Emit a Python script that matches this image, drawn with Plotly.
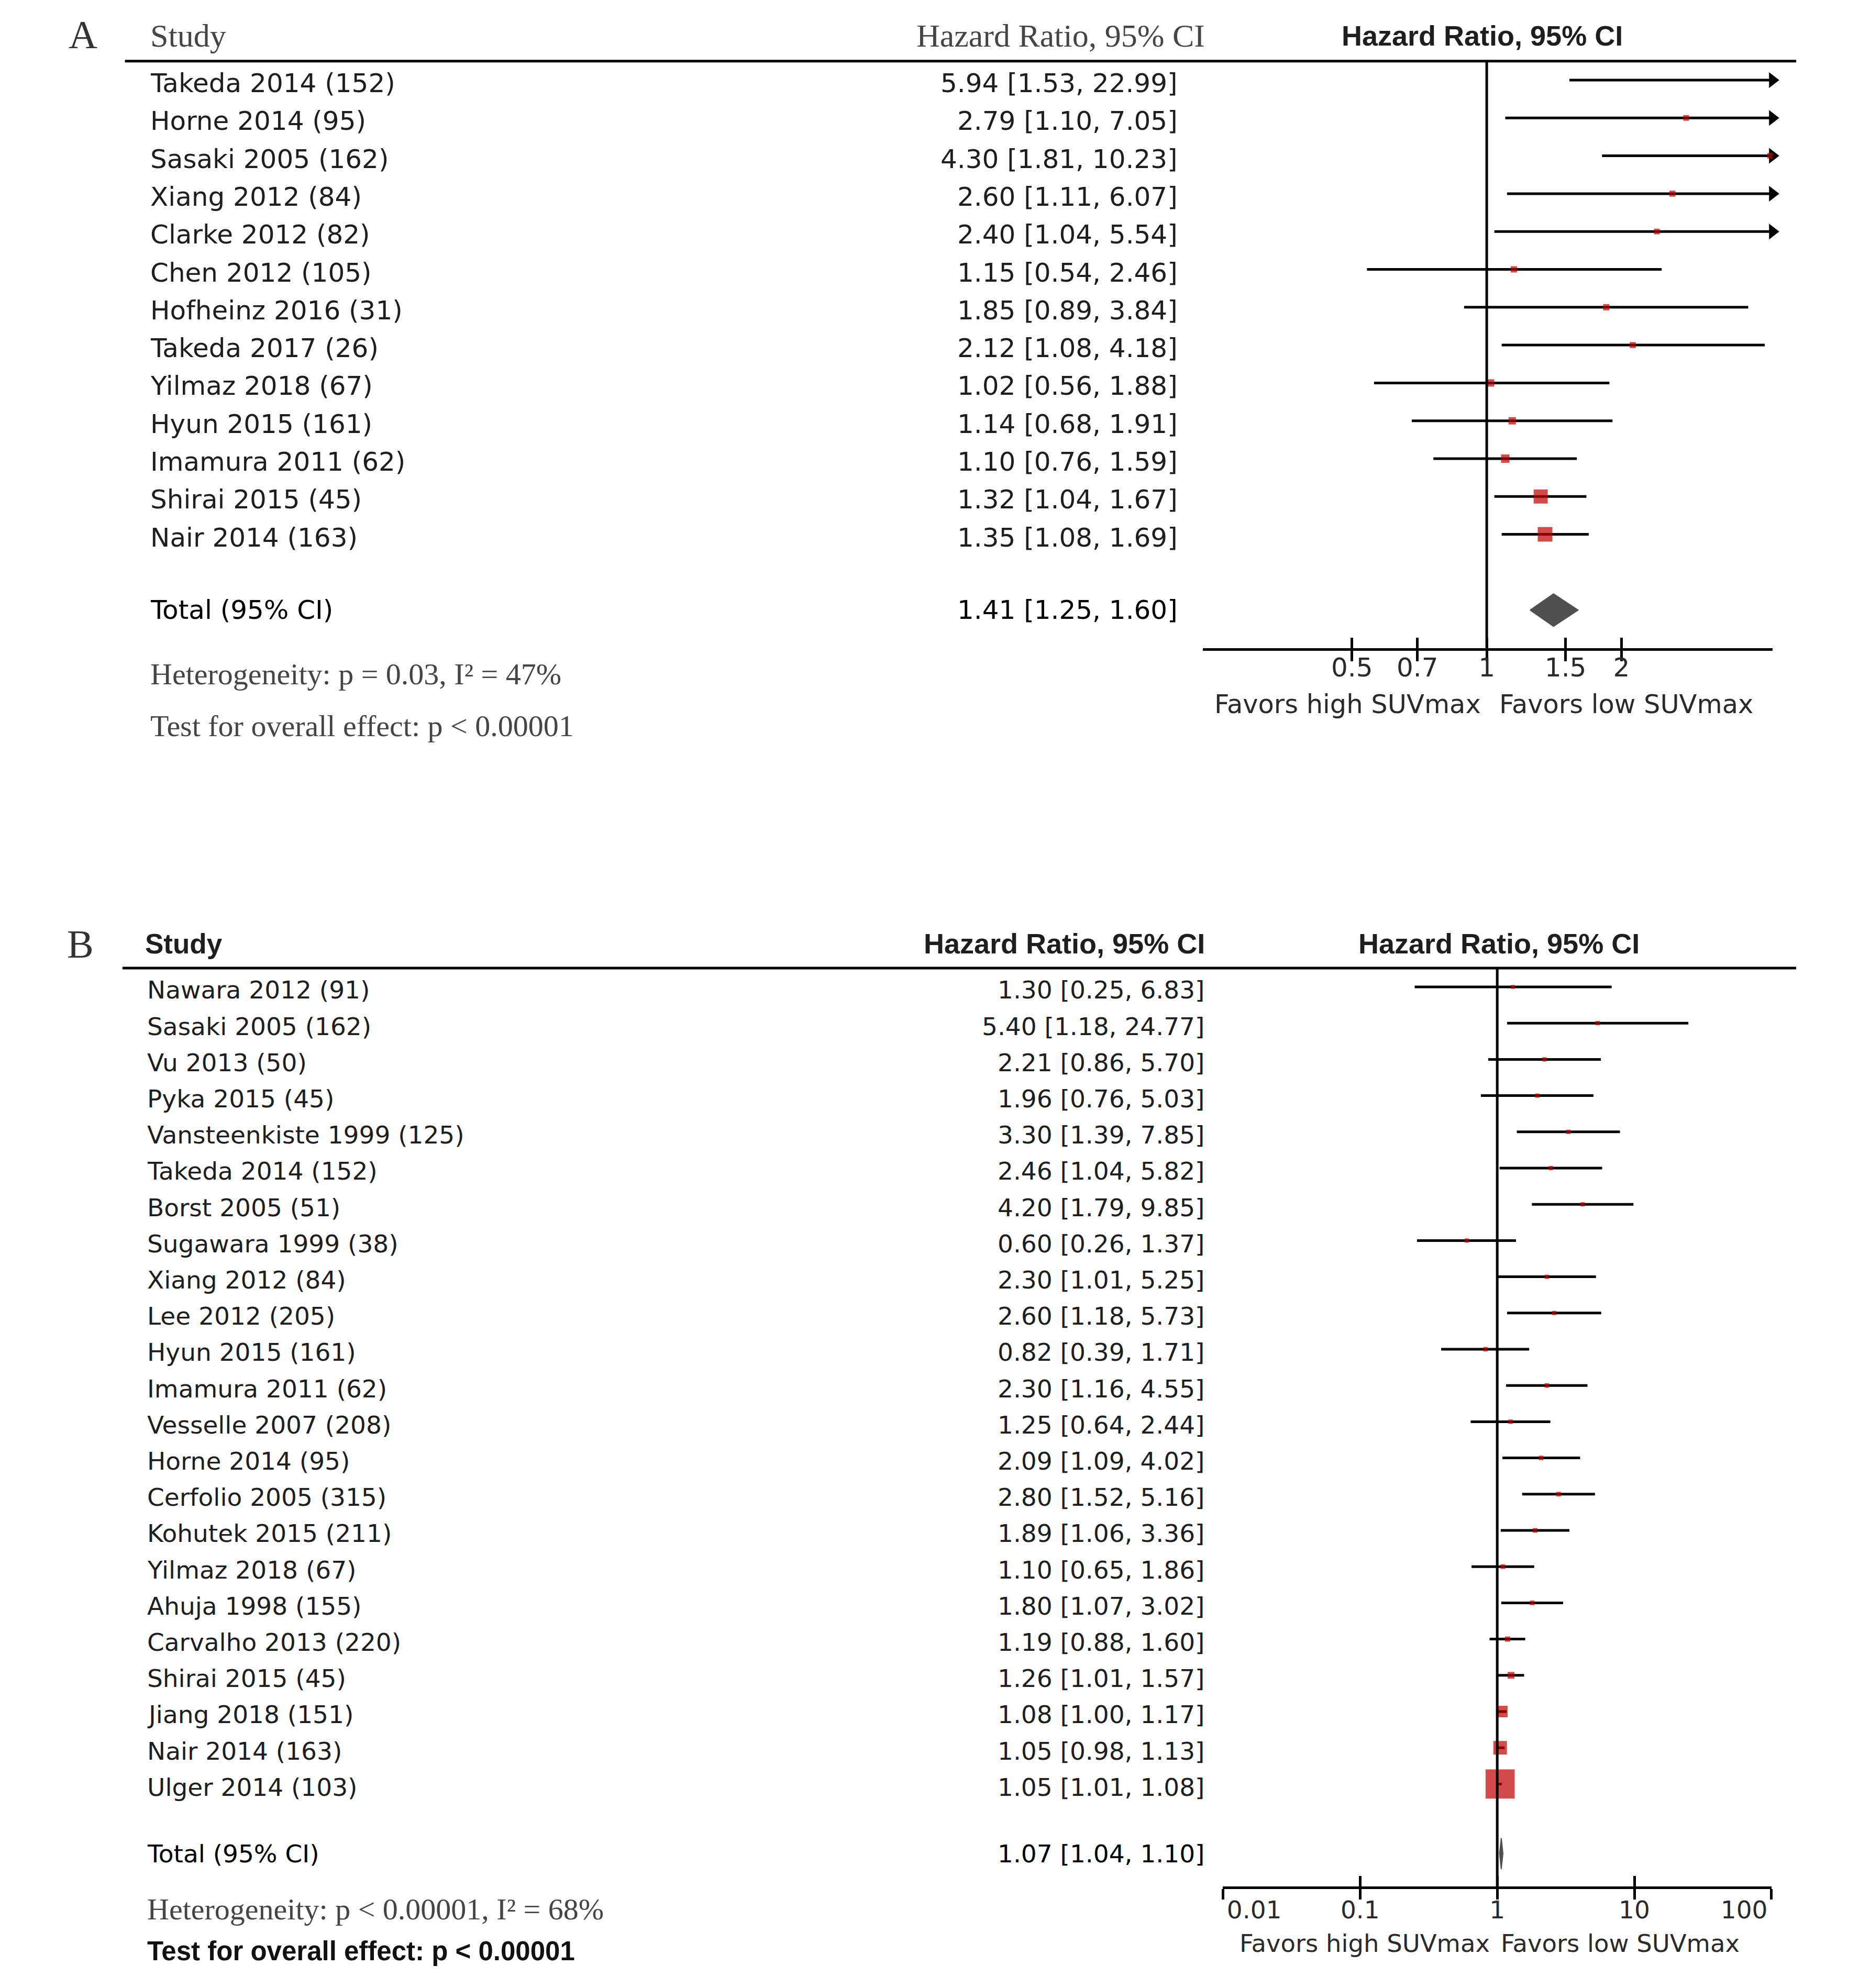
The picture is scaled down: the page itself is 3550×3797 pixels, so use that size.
import math
import plotly.graph_objects as go

# ---------------- data: panel A ----------------
studies_a = ["Takeda 2014 (152)", "Horne 2014 (95)", "Sasaki 2005 (162)", "Xiang 2012 (84)",
             "Clarke 2012 (82)", "Chen 2012 (105)", "Hofheinz 2016 (31)", "Takeda 2017 (26)",
             "Yilmaz 2018 (67)", "Hyun 2015 (161)", "Imamura 2011 (62)", "Shirai 2015 (45)",
             "Nair 2014 (163)"]
hr_a = [5.94, 2.79, 4.30, 2.60, 2.40, 1.15, 1.85, 2.12, 1.02, 1.14, 1.10, 1.32, 1.35]
lo_a = [1.53, 1.10, 1.81, 1.11, 1.04, 0.54, 0.89, 1.08, 0.56, 0.68, 0.76, 1.04, 1.08]
hi_a = [22.99, 7.05, 10.23, 6.07, 5.54, 2.46, 3.84, 4.18, 1.88, 1.91, 1.59, 1.67, 1.69]
weights_a = [2.5, 4.0, 4.0, 4.4, 4.0, 4.8, 4.8, 4.4, 6.5, 6.5, 8.5, 24.0, 26.0]
total_a = [1.41, 1.25, 1.60]
ticks_a = [0.5, 0.7, 1, 1.5, 2]
tick_labels_a = ["0.5", "0.7", "1", "1.5", "2"]
het_a = "Heterogeneity: p = 0.03, I² = 47%"
test_a = "Test for overall effect: p &lt; 0.00001"

# ---------------- data: panel B ----------------
studies_b = ["Nawara 2012 (91)", "Sasaki 2005 (162)", "Vu 2013 (50)", "Pyka 2015 (45)",
             "Vansteenkiste 1999 (125)", "Takeda 2014 (152)", "Borst 2005 (51)",
             "Sugawara 1999 (38)", "Xiang 2012 (84)", "Lee 2012 (205)", "Hyun 2015 (161)",
             "Imamura 2011 (62)", "Vesselle 2007 (208)", "Horne 2014 (95)", "Cerfolio 2005 (315)",
             "Kohutek 2015 (211)", "Yilmaz 2018 (67)", "Ahuja 1998 (155)", "Carvalho 2013 (220)",
             "Shirai 2015 (45)", "Jiang 2018 (151)", "Nair 2014 (163)", "Ulger 2014 (103)"]
hr_b = [1.30, 5.40, 2.21, 1.96, 3.30, 2.46, 4.20, 0.60, 2.30, 2.60, 0.82, 2.30, 1.25, 2.09,
        2.80, 1.89, 1.10, 1.80, 1.19, 1.26, 1.08, 1.05, 1.05]
lo_b = [0.25, 1.18, 0.86, 0.76, 1.39, 1.04, 1.79, 0.26, 1.01, 1.18, 0.39, 1.16, 0.64, 1.09,
        1.52, 1.06, 0.65, 1.07, 0.88, 1.01, 1.00, 0.98, 1.01]
hi_b = [6.83, 24.77, 5.70, 5.03, 7.85, 5.82, 9.85, 1.37, 5.25, 5.73, 1.71, 4.55, 2.44, 4.02,
        5.16, 3.36, 1.86, 3.02, 1.60, 1.57, 1.17, 1.13, 1.08]
weights_b = [1.0, 1.2, 1.2, 1.2, 1.2, 1.2, 1.2, 1.2, 1.2, 1.2, 1.3, 1.3, 1.3, 1.3, 1.4, 1.4,
             1.4, 1.4, 1.8, 3.0, 8.6, 12.0, 55.0]
total_b = [1.07, 1.04, 1.10]
ticks_b = [0.01, 0.1, 1, 10, 100]
tick_labels_b = ["0.01", "0.1", "1", "10", "100"]
het_b = "Heterogeneity: p &lt; 0.00001, I² = 68%"
test_b = "Test for overall effect: p &lt; 0.00001"

header_study = "Study"
header_hr = "Hazard Ratio, 95% CI"
total_label = "Total (95% CI)"
favor_left = "Favors high SUVmax"
favor_right = "Favors low SUVmax"

# ---------------- styling / layout ----------------
W, H = 3550, 3797
PAGE_OFF = 8  # default page margin of the html body
TEXT_DY = 6   # row texts sit a little below their whisker lines
RED = "#c00000"
DIAMOND = "#505050"
TXT = "#1e1e1e"
GREY = "#454545"
SANS = "DejaVu Sans"
SERIF = "Liberation Serif"
ARIAL = "Liberation Sans"


def fx(p):
    return (p - PAGE_OFF) / W


def fy(p):
    return 1.0 - (p - PAGE_OFF) / H


def ci_text(e, l, h):
    return f"{e:.2f} [{l:.2f}, {h:.2f}]"


fig = go.Figure()
annotations = []
shapes = []


def label(x_px, y, s, yref, anchor, size, family, color):
    annotations.append(dict(x=fx(x_px), y=y, xref="paper", yref=yref, text=s,
                            showarrow=False, xanchor=anchor, yanchor="middle",
                            font=dict(family=family, size=size, color=color)))


panels = [
    dict(tag="A", names=studies_a, hr=hr_a, lo=lo_a, hi=hi_a, w=weights_a, total=total_a,
         ticks=ticks_a, ticktext=tick_labels_a, het=het_a, test=test_a,
         x="x", xin="x3", y="y", xname="xaxis", xinname="xaxis3", yname="yaxis",
         x_px=(2321, 3477), xlim=(0.232, 4.35), row0=153.0, step=72.3, top=-0.5,
         bottom=15.0, total_row=14.0, box_k=5.5, txt_size=50,
         tag_xy=(49, 66), head_y=68, name_x=183, val_x=2272, colhead_x=2328, fhead_x=2888,
         het_y=1287, test_y=1386, het_size=58, fav_y=1345, fav_l=2888, fav_r=2920,
         fav_size=49.5, tick_size=50, standoff=-31, pad={}, line_x=(134, 3525)),
    dict(tag="B", names=studies_b, hr=hr_b, lo=lo_b, hi=hi_b, w=weights_b, total=total_b,
         ticks=ticks_b, ticktext=tick_labels_b, het=het_b, test=test_b,
         x="x2", xin="x4", y="y2", xname="xaxis2", xinname="xaxis4", yname="yaxis2",
         x_px=(2362, 3475), xlim=(0.01, 100), row0=1885.0, step=69.2, top=-0.52,
         bottom=24.83, total_row=23.92, box_k=7.5, txt_size=47,
         tag_xy=(44, 1803), head_y=1802, name_x=177, val_x=2326, colhead_x=2328, fhead_x=2922,
         het_y=3646, test_y=3726, het_size=58, fav_y=3712, fav_l=2906, fav_r=2924,
         fav_size=46.5, tick_size=47, standoff=-21, pad={0: (8, 0), 4: (0, 7)},
         line_x=(129, 3525)),
]

layout_axes = {}
for p in panels:
    n = len(p["names"])
    rows = list(range(n))
    xmin, xmax = p["xlim"]
    top_px = p["row0"] + p["top"] * p["step"]
    bot_px = p["row0"] + p["bottom"] * p["step"]
    tdy = TEXT_DY / p["step"]

    # reference line at HR = 1
    fig.add_trace(go.Scatter(x=[1, 1], y=[p["top"], p["bottom"]], xaxis=p["xin"], yaxis=p["y"],
                             mode="lines", line=dict(color="black", width=5), hoverinfo="skip"))
    # CI whiskers
    wx, wy = [], []
    for i in rows:
        wx += [max(p["lo"][i], xmin), min(p["hi"][i], xmax), None]
        wy += [i, i, None]
    fig.add_trace(go.Scatter(x=wx, y=wy, xaxis=p["x"], yaxis=p["y"], mode="lines",
                             line=dict(color="black", width=5), hoverinfo="skip"))
    # arrows where CI exceeds the axis
    ar = [i for i in rows if p["hi"][i] > xmax]
    if ar:
        fig.add_trace(go.Scatter(x=[xmax] * len(ar), y=ar, xaxis=p["x"], yaxis=p["y"],
                                 mode="markers", cliponaxis=False,
                                 marker=dict(symbol="triangle-right", size=26, color="black",
                                             line=dict(width=0))))
    # study boxes
    sizes = [max(5.0, p["box_k"] * math.sqrt(w)) for w in p["w"]]
    fig.add_trace(go.Scatter(x=p["hr"], y=rows, xaxis=p["x"], yaxis=p["y"], mode="markers",
                             marker=dict(symbol="square", size=sizes, color=RED,
                                         line=dict(width=0))))
    # pooled diamond
    est, tlo, thi = p["total"]
    t, hh = p["total_row"], 0.43
    fig.add_trace(go.Scatter(x=[tlo, est, thi, est, tlo], y=[t, t - hh, t, t + hh, t],
                             xaxis=p["x"], yaxis=p["y"], mode="lines", fill="toself",
                             fillcolor=DIAMOND, line=dict(color=DIAMOND, width=2)))

    rng = [math.log10(xmin), math.log10(xmax)]
    ttext = []
    for j, s in enumerate(p["ticktext"]):
        lead, trail = p["pad"].get(j, (0, 0))
        ttext.append("\u00a0" * lead + s + "\u00a0" * trail)
    layout_axes[p["xname"]] = dict(
        domain=[fx(p["x_px"][0]), fx(p["x_px"][1])], type="log", range=rng, autorange=False,
        anchor=p["y"], tickmode="array", tickvals=p["ticks"], ticktext=ttext,
        ticks="outside", ticklen=20, tickwidth=5, tickcolor="black",
        ticklabelstandoff=p["standoff"], ticklabeloverflow="allow",
        showline=True, linewidth=5, linecolor="black", showgrid=False, zeroline=False,
        tickfont=dict(family=SANS, size=p["tick_size"], color="#2a2a2a"), fixedrange=True)
    layout_axes[p["xinname"]] = dict(
        overlaying=p["x"], anchor=p["y"], side="bottom", type="log", range=rng,
        autorange=False, tickmode="array", tickvals=p["ticks"], ticks="inside", ticklen=20,
        tickwidth=5, tickcolor="black", showticklabels=False, showline=False,
        showgrid=False, zeroline=False, fixedrange=True)
    layout_axes[p["yname"]] = dict(
        domain=[fy(bot_px), fy(top_px)], range=[p["bottom"], p["top"]], autorange=False,
        visible=False, fixedrange=True)

    # header rule
    shapes.append(dict(type="line", xref="paper", yref="paper", x0=fx(p["line_x"][0]),
                       x1=fx(p["line_x"][1]), y0=fy(top_px), y1=fy(top_px),
                       line=dict(color="black", width=5)))

    # panel tag
    label(p["tag_xy"][0], fy(p["tag_xy"][1]), p["tag"], "paper", "center", 76, SERIF, "#333333")

    # headers
    hy = fy(p["head_y"])
    if p["tag"] == "A":
        label(p["name_x"], hy, header_study, "paper", "left", 62, SERIF, GREY)
        label(p["colhead_x"], hy, header_hr, "paper", "right", 62, SERIF, GREY)
    else:
        label(p["name_x"] - 4, hy, "<b>" + header_study + "</b>", "paper", "left", 53, ARIAL, TXT)
        label(p["colhead_x"], hy, "<b>" + header_hr + "</b>", "paper", "right", 54, ARIAL, TXT)
    label(p["fhead_x"], hy, "<b>" + header_hr + "</b>", "paper", "center", 54, ARIAL, TXT)

    # study rows
    for i in rows:
        label(p["name_x"], i + tdy, p["names"][i], p["y"], "left", p["txt_size"], SANS, TXT)
        label(p["val_x"], i + tdy, ci_text(p["hr"][i], p["lo"][i], p["hi"][i]), p["y"], "right",
              p["txt_size"], SANS, TXT)
    # total row
    label(p["name_x"], t, total_label, p["y"], "left", p["txt_size"], SANS, "#000000")
    label(p["val_x"], t, ci_text(est, tlo, thi), p["y"], "right", p["txt_size"], SANS, "#000000")

    # heterogeneity / overall effect
    label(p["name_x"], fy(p["het_y"]), p["het"], "paper", "left", p["het_size"], SERIF, GREY)
    if p["tag"] == "A":
        label(p["name_x"], fy(p["test_y"]), p["test"], "paper", "left", p["het_size"], SERIF, GREY)
    else:
        label(p["name_x"], fy(p["test_y"]), "<b>" + p["test"] + "</b>", "paper", "left", 51,
              ARIAL, "#111111")

    # favours labels
    label(p["fav_l"], fy(p["fav_y"]), favor_left, "paper", "right", p["fav_size"], SANS, "#2a2a2a")
    label(p["fav_r"], fy(p["fav_y"]), favor_right, "paper", "left", p["fav_size"], SANS, "#2a2a2a")

fig.update_layout(
    width=W, height=H, autosize=False, margin=dict(l=0, r=0, t=0, b=0),
    paper_bgcolor="white", plot_bgcolor="white", showlegend=False,
    annotations=annotations, shapes=shapes, **layout_axes)

fig.write_html("out.html")
